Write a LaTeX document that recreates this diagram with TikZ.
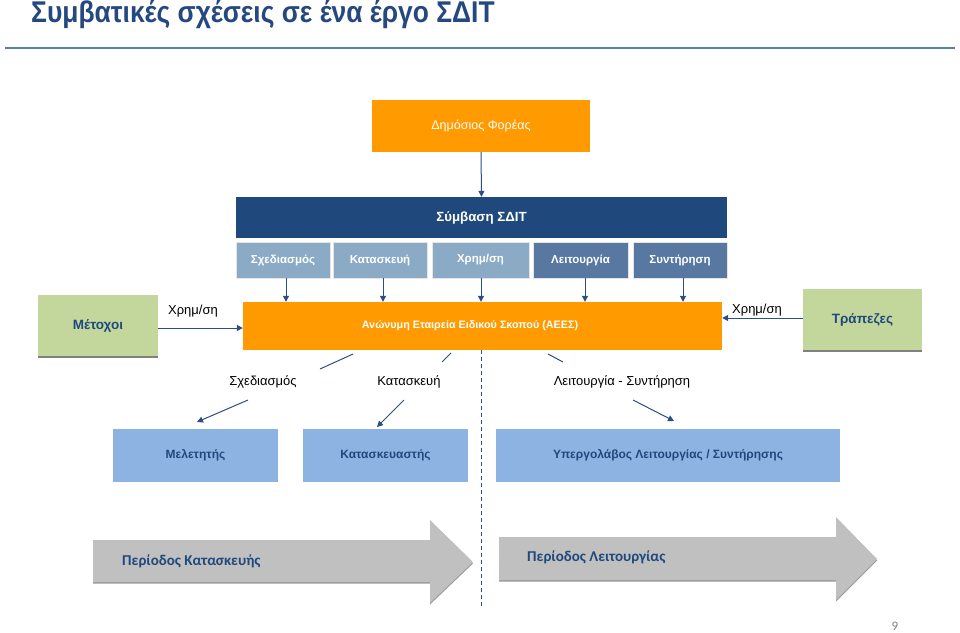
\documentclass[tikz,border=0pt]{standalone}
\usepackage{fontspec}
\setmainfont{Liberation Sans}
\newfontfamily\calib{Carlito}
\usetikzlibrary{arrows.meta}
\definecolor{ttlblue}{HTML}{24487F}
\definecolor{ttlline}{HTML}{5A7FB0}
\definecolor{orng}{HTML}{FF9A00}
\definecolor{navy}{HTML}{1F497D}
\definecolor{arrblue}{HTML}{2C4F82}
\definecolor{sublight}{HTML}{8AAAC6}
\definecolor{subdark}{HTML}{5878A2}
\definecolor{grn}{HTML}{C3D69B}
\definecolor{ltblue}{HTML}{8DB3E2}
\definecolor{bigarr}{HTML}{C0C0C0}
\definecolor{bigshadow}{HTML}{9A9A9A}
\begin{document}
\begin{tikzpicture}[x=1pt,y=-1pt,
  box/.style={inner sep=0pt, align=center},
  orgbox/.style={box, fill=orng, text=white},
  subbox/.style={box, draw=white!80!gray, line width=0.6pt, text=white, font=\fontsize{11.5}{13}\selectfont\bfseries, minimum height=36pt},
  grnbox/.style={box, fill=grn, text=navy, font=\fontsize{13.5}{15}\selectfont\bfseries, minimum width=120pt, minimum height=61pt},
  bluebox/.style={box, fill=ltblue, text=navy, font=\fontsize{12}{14}\selectfont\bfseries, minimum height=53pt},
  arr/.style={draw=arrblue, line width=1pt, -{Triangle[length=6pt,width=6pt]}},
  seg/.style={draw=arrblue, line width=1pt},
  lbl/.style={inner sep=1pt, text=black, font=\fontsize{13}{15}\selectfont},
  period/.style={anchor=west, inner sep=0pt, text=navy, font=\calib\fontsize{15}{17}\selectfont\bfseries}
]
\useasboundingbox (0,0) rectangle (960,632);

% title
\node[anchor=west, inner sep=0pt, text=ttlblue, font=\fontsize{30}{32}\selectfont\bfseries] (title) at (31,15) {\scalebox{0.88}[1]{Συμβατικές σχέσεις σε ένα έργο ΣΔΙΤ}};
\draw[ttlline, line width=2pt] (5,48) -- (955,48);

% top boxes
\node[orgbox, minimum width=218pt, minimum height=52pt, font=\fontsize{12.5}{14}\selectfont] (dimos) at (481,126) {Δημόσιος Φορέας};
\node[box, fill=navy, text=white, minimum width=491pt, minimum height=41pt, font=\fontsize{13.3}{15}\selectfont\bfseries] (symb) at (481.5,217.5) {Σύμβαση ΣΔΙΤ};
\draw[arr] (dimos.south) -- (symb.north);

\node[subbox, fill=sublight, minimum width=94pt] (s1) at (283,260) {Σχεδιασμός};
\node[subbox, fill=sublight, minimum width=94pt] (s2) at (380,260) {Κατασκευή};
\node[subbox, fill=sublight, minimum width=97pt] (s3) at (480.5,260) {Χρημ/ση};
\node[subbox, fill=subdark, minimum width=95pt] (s4) at (580.5,260) {Λειτουργία};
\node[subbox, fill=subdark, minimum width=94pt] (s5) at (680,260) {Συντήρηση};

% AEES
\node[orgbox, minimum width=479pt, minimum height=48pt,
  label={[text=white, font=\fontsize{10.8}{13}\selectfont\bfseries, xshift=-12.5pt]center:Ανώνυμη Εταιρεία Ειδικού Σκοπού (ΑΕΕΣ)}] (aees) at (482.5,326) {};

\foreach \s/\dx in {s1/3, s2/3, s3/0.5, s4/4.5, s5/3}
  \draw[arr] ([xshift=\dx pt]\s.south) -- ([xshift=\dx pt]\s.south |- aees.north);

% side boxes
\node[grnbox] (met) at (98,325.5) {Μέτοχοι};
\draw[gray, line width=2pt] ([yshift=-1pt]met.south west) -- ([yshift=-1pt]met.south east);
\node[grnbox, minimum width=119pt] (trap) at (862.5,319.5) {Τράπεζες};
\draw[gray, line width=2pt] ([yshift=-1pt]trap.south west) -- ([yshift=-1pt]trap.south east);

\draw[arr] ([yshift=-2.5pt]met.east) -- ([yshift=-2.5pt]met.east -| aees.west);
\node[lbl] (x1) at (193,311) {Χρημ/ση};
\draw[arr] ([yshift=1.5pt]trap.west) -- ([yshift=1.5pt]trap.west -| aees.east);
\node[lbl] (x2) at (757,310) {Χρημ/ση};

% dashed divider
\coordinate (dtop) at (481,350);
\coordinate (dbot) at (481,606);
\draw[arrblue, line width=1pt, dash pattern=on 4pt off 3pt] (dtop) -- (dbot);

% labels and diagonal connectors
\node[lbl] (l1) at (263,382) {Σχεδιασμός};
\node[lbl] (l2) at (409,382) {Κατασκευή};
\node[lbl] (l3) at (622,382) {Λειτουργία - Συντήρηση};

\coordinate (a1) at (353,354); \coordinate (b1) at (320,369);
\coordinate (a2) at (451,353); \coordinate (b2) at (442,362);
\coordinate (a3) at (548,354); \coordinate (b3) at (563,362);
\draw[seg] (a1) -- (b1);
\draw[seg] (a2) -- (b2);
\draw[seg] (a3) -- (b3);

\node[bluebox, minimum width=165pt] (mel) at (195.5,455.5) {Μελετητής};
\node[bluebox, minimum width=165pt] (kat) at (385.5,455.5) {Κατασκευαστής};
\node[bluebox, minimum width=344pt] (yp) at (668,455) {Υπεργολάβος Λειτουργίας / Συντήρησης};

\coordinate (c1) at (248,400); \coordinate (e1) at (197,422);
\coordinate (c2) at (404,400); \coordinate (e2) at (377,427);
\coordinate (c3) at (633,400); \coordinate (e3) at (674,421);
\draw[arr] (c1) -- (e1);
\draw[arr] (c2) -- (e2);
\draw[arr] (c3) -- (e3);

% period arrows
\fill[bigshadow] (93,541.5) -- (430,541.5) -- (430,521.5) -- (473,563.5) -- (430,604.5) -- (430,583.5) -- (93,583.5) -- cycle;
\fill[bigarr] (93,540) -- (430,540) -- (430,520) -- (473,562) -- (430,603) -- (430,582) -- (93,582) -- cycle;
\node[period] (p1) at (122,561) {Περίοδος Κατασκευής};

\fill[bigshadow] (499,538.5) -- (836,538.5) -- (836,518.5) -- (877,560.5) -- (836,601.5) -- (836,581.5) -- (499,581.5) -- cycle;
\fill[bigarr] (499,537) -- (836,537) -- (836,517) -- (877,559) -- (836,600) -- (836,580) -- (499,580) -- cycle;
\node[period] (p2) at (527,557) {Περίοδος Λειτουργίας};

\node[inner sep=0pt, text=gray, font=\calib\fontsize{13}{15}\selectfont] (pg) at (895,626) {9};
\end{tikzpicture}
\end{document}
